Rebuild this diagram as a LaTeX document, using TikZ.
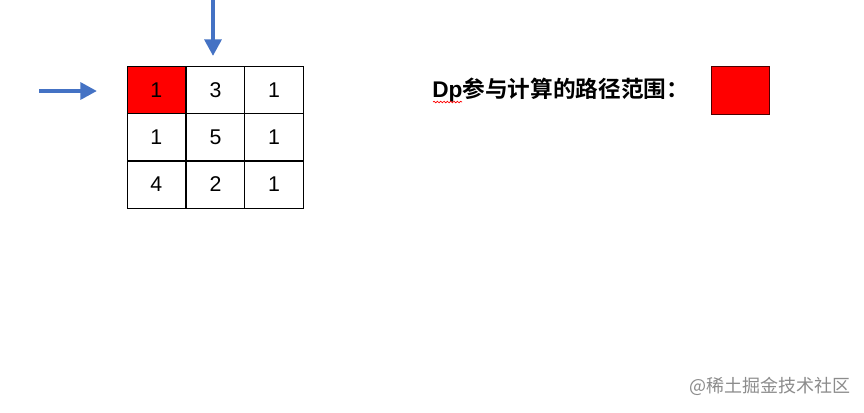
\documentclass[tikz,border=0pt]{standalone}
\usepackage{fontspec}
\setmainfont{Liberation Sans}
\newfontfamily\cjk{Noto Sans CJK SC}
\newfontfamily\cjkb{Noto Sans CJK SC Bold}
\usetikzlibrary{arrows.meta,decorations.pathmorphing}
\definecolor{arrowblue}{HTML}{4472C4}
\definecolor{cellred}{HTML}{FF0000}
\begin{document}
\begin{tikzpicture}[x=0.75pt,y=-0.75pt,
  cell/.style={draw=black,line width=0.7pt,minimum width=44pt,minimum height=35.5pt,inner sep=0pt,font=\fontsize{16pt}{18pt}\selectfont},
  bluearrow/.style={draw=arrowblue,line width=3.6pt,-{Triangle[length=12.5pt,width=12.5pt]}}]
\useasboundingbox[fill=white] (0,0) rectangle (864,412);
% grid
\node[cell,fill=cellred] (c11) at (156.33,90) {1};
\node[cell] (c12) at (215.5,90) {3};
\node[cell] (c13) at (274,90) {1};
\node[cell] (c21) at (156.33,137.5) {1};
\node[cell] (c22) at (215.5,137.5) {5};
\node[cell] (c23) at (274,137.5) {1};
\node[cell] (c31) at (156.33,184.5) {4};
\node[cell] (c32) at (215.5,184.5) {2};
\node[cell] (c33) at (274,184.5) {1};
% arrows
\coordinate (h0) at (39,91);
\coordinate (h1) at (97,91);
\coordinate (v0) at (213,-2);
\coordinate (v1) at (213,56);
\draw[bluearrow] (h0) -- (h1);
\draw[bluearrow] (v0) -- (v1);
% legend
\node[anchor=west,inner sep=0pt,font=\fontsize{17pt}{20pt}\selectfont] (lbl) at (432,90) {\textbf{Dp}{\cjkb 参与计算的路径范围：}};
\draw[red,line width=0.5pt,decorate,decoration={snake,amplitude=0.6pt,segment length=2.5pt}] (433,102) -- (462,102);
\node[draw=black!70!red,fill=cellred,line width=0.6pt,minimum width=44pt,minimum height=36pt,inner sep=0pt] (legbox) at (740.5,90) {};
% watermark
\node[anchor=east,inner sep=0pt,text=black!45,font=\cjk\fontsize{13.5pt}{16pt}\selectfont] (wm) at (851,386) {@稀土掘金技术社区};
\end{tikzpicture}
\end{document}
